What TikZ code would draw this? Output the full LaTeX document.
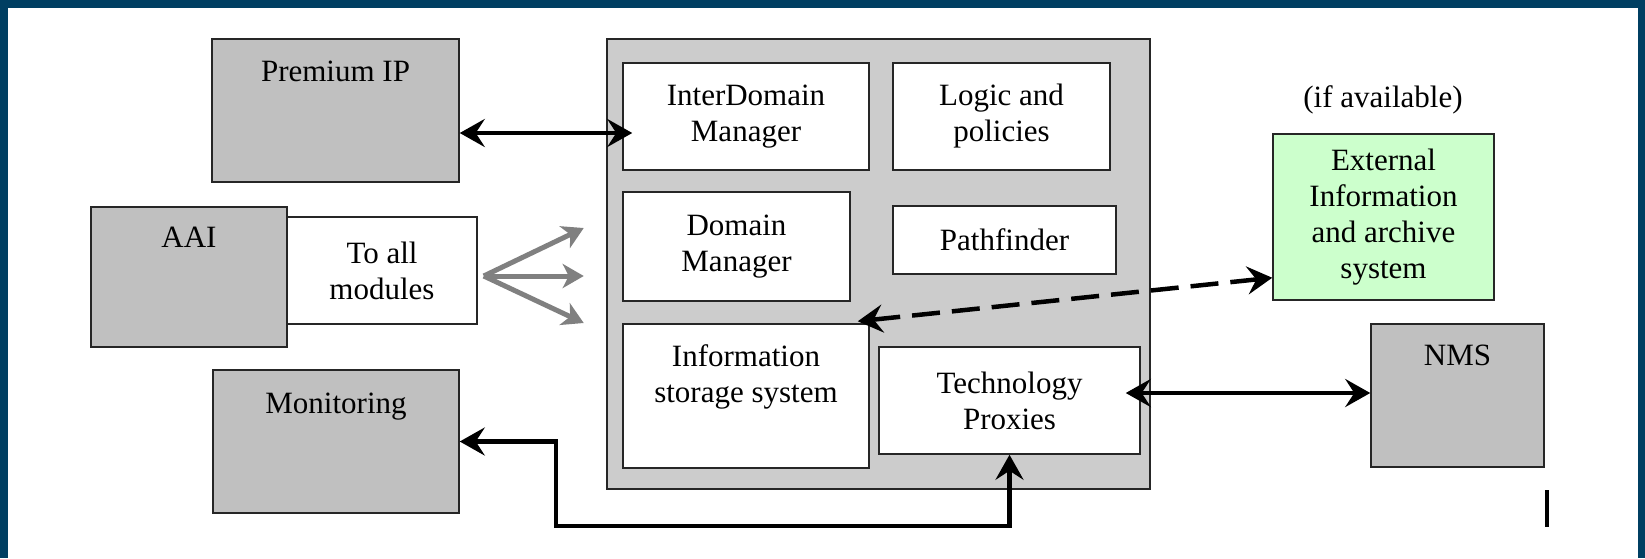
\documentclass[tikz,border=0pt]{standalone}
\usepackage{fontspec}
\setmainfont{Liberation Serif}
\usetikzlibrary{arrows.meta}
\definecolor{frameblue}{HTML}{003F62}
\definecolor{boxgray}{HTML}{C0C0C0}
\definecolor{coregray}{HTML}{CCCCCC}
\definecolor{extgreen}{HTML}{CCFFCC}
\definecolor{fangray}{HTML}{808080}
\begin{document}
\begin{tikzpicture}[x=1pt,y=-1pt,
        box/.style={draw=black!85,line width=1.5pt,fill=white,inner sep=0pt,
            align=center,font=\fontsize{31}{36}\selectfont},
        graybox/.style={box,fill=boxgray},
        tag/.style={inner sep=0pt,align=center,font=\fontsize{31}{36}\selectfont},
        biarrow/.style={line width=4.5pt,{Stealth[length=25pt,width=28pt,inset=9pt]}-{Stealth[length=25pt,width=28pt,inset=9pt]}},
        fanarrow/.style={line width=5pt,draw=fangray,-{Stealth[length=21pt,width=24pt,inset=6pt]}}]
    \useasboundingbox (0,0) rectangle (1645,558);
    \fill[frameblue] (0,0) rectangle (1645,558);
    \fill[white] (8,8) rectangle (1638,558);

    \node[graybox,minimum width=247pt,minimum height=143pt] (prem) at (335.5,110.5) {};
    \node[tag,anchor=base] (premt) at (335.5,81) {Premium IP};
    \node[graybox,minimum width=196pt,minimum height=140pt] (aai) at (189,277) {};
    \node[tag,anchor=base] (aait) at (189,247) {AAI};
    \node[box,minimum width=190pt,minimum height=107pt] (toall) at (382,270.5) {To all\\modules};
    \node[graybox,minimum width=246pt,minimum height=143pt] (mon) at (336,441.5) {};
    \node[tag,anchor=base] (mont) at (336,413) {Monitoring};

    \node[box,fill=coregray,minimum width=543pt,minimum height=450pt] (core) at (878.5,264) {};
    \node[box,minimum width=246pt,minimum height=107pt] (idm) at (746,116.5) {InterDomain\\Manager};
    \node[box,minimum width=217pt,minimum height=107pt] (logic) at (1001.5,116.5) {Logic and\\policies};
    \node[box,minimum width=227pt,minimum height=109pt] (dm) at (736.5,246.5) {Domain\\Manager};
    \node[box,minimum width=223pt,minimum height=68pt] (pf) at (1004.5,240) {Pathfinder};
    \node[box,minimum width=246pt,minimum height=144pt] (isys) at (746,396) {};
    \node[tag,anchor=north] (isyst) at (746,344) {Information\\storage system};
    \node[box,minimum width=261pt,minimum height=107pt] (tp) at (1009.5,400.5) {Technology\\Proxies};

    \node[tag,anchor=base] (avail) at (1383,107) {(if available)};
    \node[box,fill=extgreen,minimum width=221pt,minimum height=166pt] (ext) at (1383.5,217) {External\\Information\\and archive\\system};
    \node[graybox,minimum width=173pt,minimum height=143pt] (nms) at (1457.5,395.5) {};
    \node[tag,anchor=base] (nmst) at (1457.5,365) {NMS};

    \coordinate (fan) at ([xshift=6pt,yshift=-5.5pt]toall.east);
    \draw[fanarrow] (fan) -- ([xshift=100pt,yshift=48pt]fan);
    \draw[fanarrow] (fan) -- ([xshift=100pt]fan);
    \draw[fanarrow] (fan) -- ([xshift=100pt,yshift=-47pt]fan);

    \draw[biarrow] ([yshift=-22.5pt]prem.east) -- ([xshift=10pt,yshift=-16.5pt]idm.west);
    \draw[biarrow,dash pattern=on 28pt off 12pt] ([xshift=-12pt,yshift=2pt]isys.north east) -- ([yshift=23pt]ext.south west);
    \draw[biarrow] ([xshift=-15pt,yshift=7.5pt]tp.east) -- ([yshift=2.5pt]nms.west);
    \coordinate (bend) at (556,526);
    \draw[biarrow] (mon.east) -| (bend) -| (tp.south);
    \draw[line width=4pt] (1547,490) -- (1547,527);
\end{tikzpicture}
\end{document}
